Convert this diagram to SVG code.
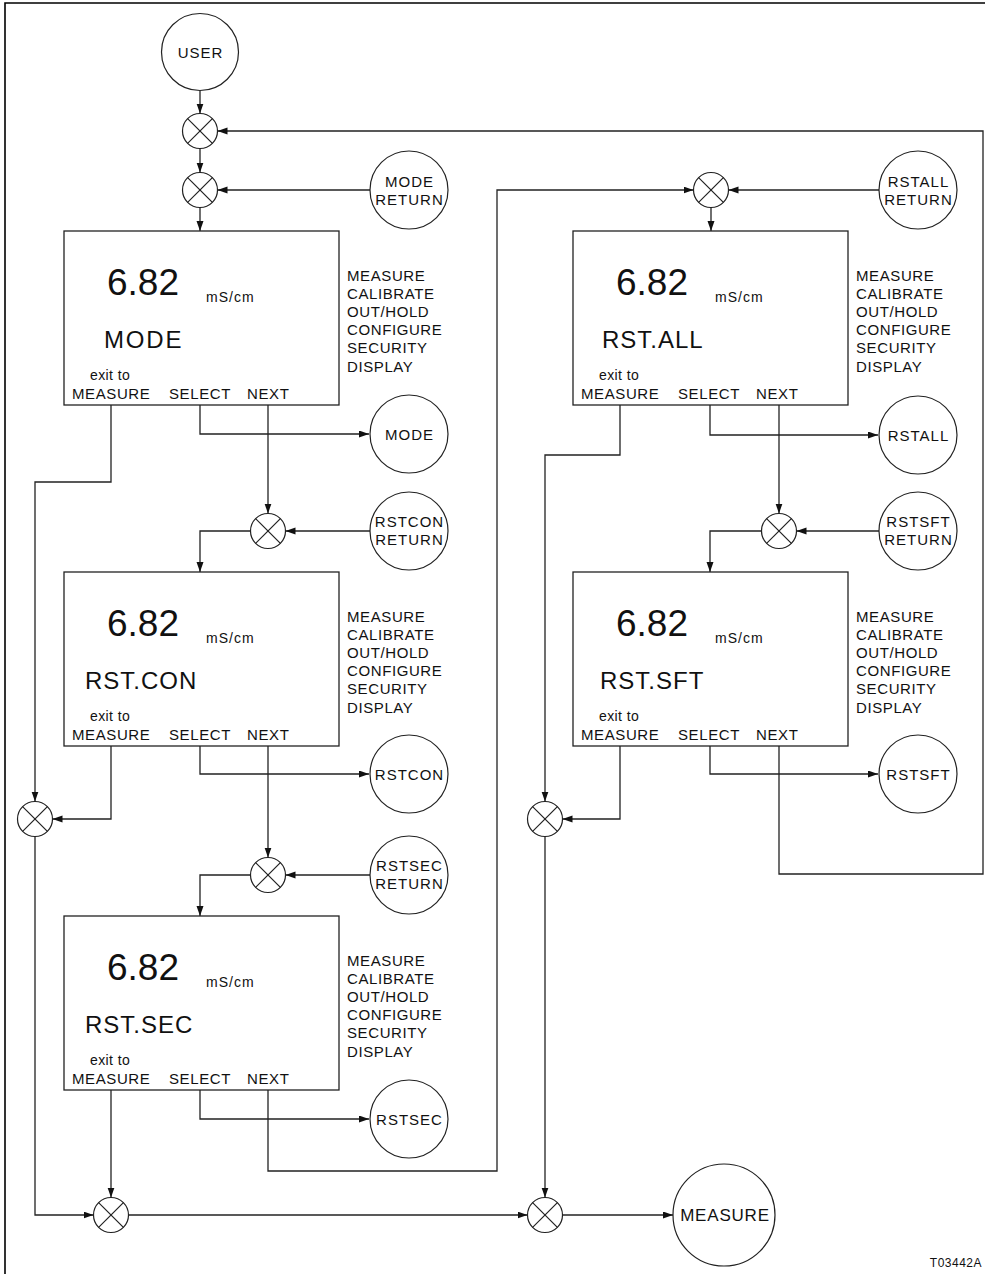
<svg xmlns="http://www.w3.org/2000/svg" width="985" height="1274" viewBox="0 0 985 1274">
<style>
text{font-family:"Liberation Sans",Arial,sans-serif;fill:#111}
.frame{fill:none;stroke:#000;stroke-width:1.6}
.box{fill:#fff;stroke:#222;stroke-width:1.3}
.node{fill:#fff;stroke:#222;stroke-width:1.2}
.jx{fill:#fff;stroke:#222;stroke-width:1.2}
.jl{stroke:#222;stroke-width:1.2}
.c{fill:none;stroke:#222;stroke-width:1.3}
.ca{fill:none;stroke:#222;stroke-width:1.3;marker-end:url(#ah)}
.big{font-size:37px}
.unit{font-size:14px;letter-spacing:1px}
.name{font-size:24px;letter-spacing:1px}
.exit{font-size:14px;letter-spacing:0.4px}
.key{font-size:15px;letter-spacing:0.6px}
.lbl{font-size:15px;letter-spacing:1px;text-anchor:middle}
.tag{font-size:12px;letter-spacing:0.5px;text-anchor:end}
</style>
<defs>
<marker id="ah" markerUnits="userSpaceOnUse" markerWidth="11" markerHeight="8" refX="10" refY="3.5" orient="auto">
<path d="M0,0 L10,3.5 L0,7 z" fill="#111"/>
</marker>
<g id="jn">
<circle class="jx" cx="0" cy="0" r="17.5"/>
<line class="jl" x1="-12.4" y1="-12.4" x2="12.4" y2="12.4"/>
<line class="jl" x1="-12.4" y1="12.4" x2="12.4" y2="-12.4"/>
</g>
<g id="menu">
<text class="key" x="347" y="280.5">MEASURE</text>
<text class="key" x="347" y="298.7">CALIBRATE</text>
<text class="key" x="347" y="316.9">OUT/HOLD</text>
<text class="key" x="347" y="335.1">CONFIGURE</text>
<text class="key" x="347" y="353.3">SECURITY</text>
<text class="key" x="347" y="371.5">DISPLAY</text>
</g>
<g id="common">
<rect class="box" x="64" y="231" width="275" height="174"/>
<text class="big" x="107" y="295">6.82</text>
<text class="unit" x="206" y="301.5">mS/cm</text>
<text class="exit" x="90" y="380">exit to</text>
<text class="key" x="72" y="399">MEASURE</text>
<text class="key" x="169" y="399">SELECT</text>
<text class="key" x="247" y="399">NEXT</text>
<use href="#menu"/>
</g>
</defs>

<!-- frame -->
<path class="frame" d="M985,3 H5 V1274"/>

<!-- connectors -->
<g id="connectors">
<path class="ca" d="M200,90.5 V113.5"/>
<path class="ca" d="M200,148.5 V172.5"/>
<path class="ca" d="M370,190 H217.5"/>
<path class="ca" d="M200,207.5 V231"/>
<!-- row 1 left -->
<path class="ca" d="M111,405 V482 H35 V801.5"/>
<path class="ca" d="M200,405 V434 H369"/>
<path class="ca" d="M268,405 V513.5"/>
<path class="ca" d="M370,531 H285.5"/>
<path class="ca" d="M250.5,531 H200 V572"/>
<!-- row 2 left -->
<path class="ca" d="M111,746 V819 H52.5"/>
<path class="ca" d="M200,746 V774 H369"/>
<path class="ca" d="M268,746 V857.5"/>
<path class="ca" d="M370,875 H285.5"/>
<path class="ca" d="M250.5,875 H200 V916"/>
<!-- row 3 left -->
<path class="ca" d="M111,1090 V1197.5"/>
<path class="ca" d="M200,1090 V1119 H369"/>
<path class="ca" d="M268,1090 V1171 H497 V190 H693.5"/>
<path class="ca" d="M35,836.5 V1215 H93.5"/>
<path class="ca" d="M128.5,1215 H527.5"/>
<path class="ca" d="M562.5,1215 H673"/>
<!-- right column -->
<path class="ca" d="M879,190 H728.5"/>
<path class="ca" d="M711,207.5 V231"/>
<path class="ca" d="M620,405 V455 H545 V801.5"/>
<path class="ca" d="M710,405 V435 H878"/>
<path class="ca" d="M779,405 V513.5"/>
<path class="ca" d="M879,531 H796.5"/>
<path class="ca" d="M761.5,531 H710 V572"/>
<path class="ca" d="M620,746 V819 H562.5"/>
<path class="ca" d="M710,746 V774 H878"/>
<path class="ca" d="M779,746 V874 H983 V131 H217.5"/>
<path class="ca" d="M545,836.5 V1197.5"/>
</g>

<!-- junctions -->
<g id="junctions">
<use href="#jn" x="200" y="131"/>
<use href="#jn" x="200" y="190"/>
<use href="#jn" x="268" y="531"/>
<use href="#jn" x="268" y="875"/>
<use href="#jn" x="35" y="819"/>
<use href="#jn" x="111" y="1215"/>
<use href="#jn" x="545" y="1215"/>
<use href="#jn" x="711" y="190"/>
<use href="#jn" x="779" y="531"/>
<use href="#jn" x="545" y="819"/>
</g>

<!-- circle nodes -->
<g id="user"><circle class="node" cx="200" cy="52" r="38.5"/><text class="lbl" x="200.5" y="58">USER</text></g>
<g id="mode-return"><circle class="node" cx="409" cy="190" r="39"/><text class="lbl" x="409.5" y="187">MODE</text><text class="lbl" x="409.5" y="205">RETURN</text></g>
<g id="mode-stub"><circle class="node" cx="409" cy="434" r="39"/><text class="lbl" x="409.5" y="440">MODE</text></g>
<g id="rstcon-return"><circle class="node" cx="409" cy="531" r="39"/><text class="lbl" x="409.5" y="527">RSTCON</text><text class="lbl" x="409.5" y="545">RETURN</text></g>
<g id="rstcon-stub"><circle class="node" cx="409" cy="774" r="39"/><text class="lbl" x="409.5" y="780">RSTCON</text></g>
<g id="rstsec-return"><circle class="node" cx="409" cy="875" r="39"/><text class="lbl" x="409.5" y="871">RSTSEC</text><text class="lbl" x="409.5" y="889">RETURN</text></g>
<g id="rstsec-stub"><circle class="node" cx="409" cy="1119" r="39"/><text class="lbl" x="409.5" y="1125">RSTSEC</text></g>
<g id="rstall-return"><circle class="node" cx="918" cy="190" r="39"/><text class="lbl" x="918.5" y="187">RSTALL</text><text class="lbl" x="918.5" y="205">RETURN</text></g>
<g id="rstall-stub"><circle class="node" cx="918" cy="435" r="39"/><text class="lbl" x="918.5" y="441">RSTALL</text></g>
<g id="rstsft-return"><circle class="node" cx="918" cy="531" r="39"/><text class="lbl" x="918.5" y="527">RSTSFT</text><text class="lbl" x="918.5" y="545">RETURN</text></g>
<g id="rstsft-stub"><circle class="node" cx="918" cy="774" r="39"/><text class="lbl" x="918.5" y="780">RSTSFT</text></g>
<g id="measure"><circle class="node" cx="724" cy="1215" r="51"/><text class="lbl" x="725" y="1221" style="font-size:17px;letter-spacing:0.8px">MEASURE</text></g>

<!-- display boxes -->
<g id="box-mode"><use href="#common"/><text class="name" x="104" y="348" style="letter-spacing:1.8px">MODE</text></g>
<g id="box-rstcon" transform="translate(0,341)"><use href="#common"/><text class="name" x="85" y="348">RST.CON</text></g>
<g id="box-rstsec" transform="translate(0,685)"><use href="#common"/><text class="name" x="85" y="348">RST.SEC</text></g>
<g id="box-rstall" transform="translate(509,0)"><use href="#common"/><text class="name" x="93" y="348">RST.ALL</text></g>
<g id="box-rstsft" transform="translate(509,341)"><use href="#common"/><text class="name" x="91" y="348">RST.SFT</text></g>

<text class="tag" x="982" y="1267">T03442A</text>
</svg>
